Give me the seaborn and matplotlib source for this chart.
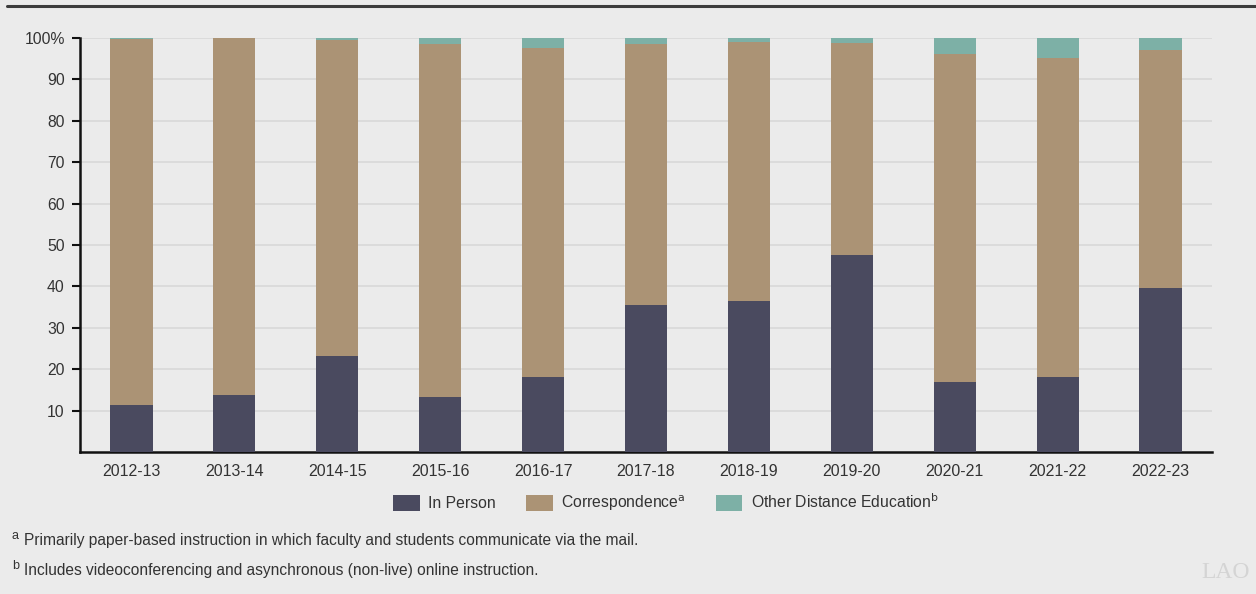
import matplotlib
matplotlib.use("Agg")
import matplotlib.pyplot as plt
import seaborn as sns
import pandas as pd
from matplotlib.patches import Patch
from matplotlib.lines import Line2D

years = ["2012-13", "2013-14", "2014-15", "2015-16", "2016-17", "2017-18",
         "2018-19", "2019-20", "2020-21", "2021-22", "2022-23"]
in_person = [11.3, 13.8, 23.2, 13.2, 18.1, 35.6, 36.4, 47.7, 17.0, 18.2, 39.5]
correspondence = [88.5, 86.2, 76.2, 85.4, 79.4, 63.0, 62.6, 51.0, 79.1, 76.9, 57.7]
other_distance = [0.2, 0.0, 0.6, 1.4, 2.5, 1.4, 1.0, 1.3, 3.9, 4.9, 2.8]
yticks = [10, 20, 30, 40, 50, 60, 70, 80, 90, 100]
ytick_labels = ["10", "20", "30", "40", "50", "60", "70", "80", "90", "100%"]

c_in = "#4a4a5f"
c_corr = "#ab9375"
c_oth = "#7db0a6"
bg = "#ebebeb"
txt = "#333333"

df = pd.DataFrame({"year": years, "in": in_person, "corr": correspondence, "oth": other_distance})
df["top2"] = df["in"] + df["corr"]
df["top3"] = df["top2"] + df["oth"]

sns.set_theme(style="white")
plt.rcParams["font.family"] = ["Liberation Sans", "DejaVu Sans"]

fig = plt.figure(figsize=(12.56, 5.94), dpi=100, facecolor=bg)
ax = fig.add_axes([80/1256, 1-452/594, (1212-80)/1256, (452-38)/594])
ax.set_facecolor(bg)

w = 0.41
for col, c in [("top3", c_oth), ("top2", c_corr), ("in", c_in)]:
    sns.barplot(data=df, x="year", y=col, color=c, width=w, saturation=1, ax=ax,
                zorder=3, edgecolor="none", linewidth=0)

ax.set_ylim(0, 100)
ax.set_xlim(-0.5, len(years) - 0.5)
ax.set_yticks(yticks)
ax.set_yticklabels(ytick_labels)
ax.set_xlabel("")
ax.set_ylabel("")
ax.yaxis.grid(True, color="#d8d8d8", linewidth=1.2, zorder=0)
ax.set_axisbelow(True)
for s in ["top", "right"]:
    ax.spines[s].set_visible(False)
for s in ["left", "bottom"]:
    ax.spines[s].set_color("#111111")
    ax.spines[s].set_linewidth(1.8)
ax.tick_params(axis="y", which="both", left=True, length=6, width=1.5, color="#111111",
               labelsize=11.3, labelcolor=txt, pad=5)
ax.tick_params(axis="x", bottom=False, length=0, labelsize=11.5, labelcolor=txt, pad=9)

handles = [Patch(facecolor=c_in, edgecolor="none"),
           Patch(facecolor=c_corr, edgecolor="none"),
           Patch(facecolor=c_oth, edgecolor="none")]
labels = ["In Person", "Correspondence$^{\\mathrm{a}}$", "Other Distance Education$^{\\mathrm{b}}$"]
fig.legend(handles, labels, loc="center", bbox_to_anchor=(666/1256, 1-503/594), ncol=3,
           frameon=False, fontsize=11.3, handlelength=1.7, handleheight=1.2,
           columnspacing=1.9, handletextpad=0.55, labelcolor=txt)

fig.text(12/1256, 1-536/594, "a", fontsize=9, color=txt, va="center")
fig.text(24/1256, 1-541/594, "Primarily paper-based instruction in which faculty and students communicate via the mail.",
         fontsize=11.2, color=txt, va="center")
fig.text(12/1256, 1-566/594, "b", fontsize=9, color=txt, va="center")
fig.text(24/1256, 1-571/594, "Includes videoconferencing and asynchronous (non-live) online instruction.",
         fontsize=11.2, color=txt, va="center")

fig.text(1201/1256, 1-572/594, "LAO", fontsize=17, color="#d4d4d4", va="center",
         family=["Liberation Serif", "DejaVu Serif"])

fig.add_artist(Line2D([7/1256, 1.0], [1-6/594, 1-6/594], color="#3c3c3c", linewidth=2.2,
                      transform=fig.transFigure))

fig.savefig("out.png", dpi=100, facecolor=bg)
